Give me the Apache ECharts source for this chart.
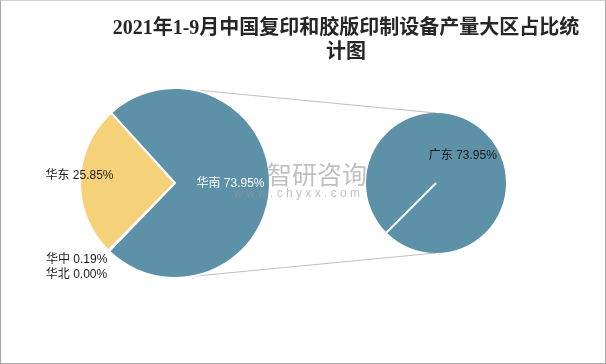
<!DOCTYPE html>
<html>
<head>
<meta charset="utf-8">
<script src="https://cdn.jsdelivr.net/npm/echarts@6/dist/echarts.min.js"></script>
<style>
html,body{margin:0;padding:0;background:#fff;}
#main{width:606px;height:364px;box-sizing:border-box;border:1px solid #a6a6a6;border-top-color:#d0d0d0;}
</style>
</head>
<body>
<div id="main"></div>
<script>
// Data
var titleText = '2021年1-9月中国复印和胶版印制设备产量大区占比统\n计图';
var mainNames = ['华中', '华北', '华东', '华南'];
var mainValues = [0.19, 0.00, 25.85, 73.95];
var subNames = ['广东'];
var subValues = [73.95];

// Layout
var L = {cx: 174, cy: 182, r: 95};
var R = {cx: 435, cy: 182, r: 70};
var subStart = 225;
var BLUE = '#5d91a7', YELLOW = '#f5d27a';
var LABEL_FONT = '"Liberation Sans", "Noto Sans CJK SC", sans-serif';

var colors = {'华中': '#9fb9c7', '华北': '#c6d6df', '华东': YELLOW, '华南': BLUE};
var labelOffsets = {'华中': [-63, 41], '华北': [-63, 56], '华东': [-45, -6], '华南': [5, 0]};

function fmt(p) { return p.name + ' ' + Number(p.value).toFixed(2) + '%'; }

var mainData = mainNames.map(function (n, i) {
  return {
    name: n, value: mainValues[i],
    itemStyle: {color: colors[n]},
    label: {offset: labelOffsets[n], color: n === '华南' ? '#fff' : '#1a1a1a'}
  };
});
var subData = subNames.map(function (n, i) {
  return {name: n, value: subValues[i], itemStyle: {color: BLUE}};
});

var chart = echarts.init(document.getElementById('main'), null, {renderer: 'canvas'});

function rad(a) { return a * Math.PI / 180; }
var ang = rad(subStart);

chart.setOption({
  animation: false,
  backgroundColor: '#fff',
  title: {
    text: titleText,
    left: 340, top: 11, textAlign: 'center',
    textStyle: {fontFamily: '"Liberation Serif", "DejaVu Serif", "Noto Sans CJK SC", serif', fontWeight: 'bold', fontSize: 20, color: '#262626', lineHeight: 24}
  },
  graphic: [
    {type: 'line', shape: {x1: L.cx, y1: L.cy - L.r, x2: R.cx, y2: R.cy - R.r}, style: {stroke: '#bfbfbf', lineWidth: 1}, z: 1},
    {type: 'line', shape: {x1: L.cx, y1: L.cy + L.r, x2: R.cx, y2: R.cy + R.r}, style: {stroke: '#bfbfbf', lineWidth: 1}, z: 1},
    {type: 'line', shape: {x1: R.cx, y1: R.cy, x2: R.cx + R.r * Math.cos(ang), y2: R.cy - R.r * Math.sin(ang)}, style: {stroke: '#fff', lineWidth: 2}, z: 100},
    {type: 'text', left: 266, top: 161, z: 100, style: {text: '智研咨询', fontSize: 25, fill: 'rgba(150,150,150,0.6)', fontFamily: '"Noto Sans CJK SC", sans-serif'}},
    {type: 'text', left: 233, top: 187, z: 100, style: {text: 'w w w . c h y x x . c o m', fontSize: 12, fill: 'rgba(150,150,150,0.6)', fontFamily: '"Liberation Sans", sans-serif'}}
  ],
  series: [
    {
      type: 'pie', center: [L.cx, L.cy], radius: [0, L.r], startAngle: 226, clockwise: true,
      avoidLabelOverlap: false,
      itemStyle: {borderColor: '#fff', borderWidth: 2},
      label: {show: true, position: 'inside', formatter: fmt, fontSize: 12, fontFamily: LABEL_FONT},
      labelLine: {show: false},
      emphasis: {disabled: true},
      data: mainData
    },
    {
      type: 'pie', center: [R.cx, R.cy], radius: [0, R.r], startAngle: subStart, clockwise: true,
      avoidLabelOverlap: false,
      itemStyle: {borderWidth: 0},
      label: {show: true, position: 'inside', formatter: fmt, fontSize: 12, color: '#1a1a1a', fontFamily: LABEL_FONT},
      labelLine: {show: false},
      emphasis: {disabled: true},
      data: subData
    }
  ]
});
</script>
</body>
</html>
